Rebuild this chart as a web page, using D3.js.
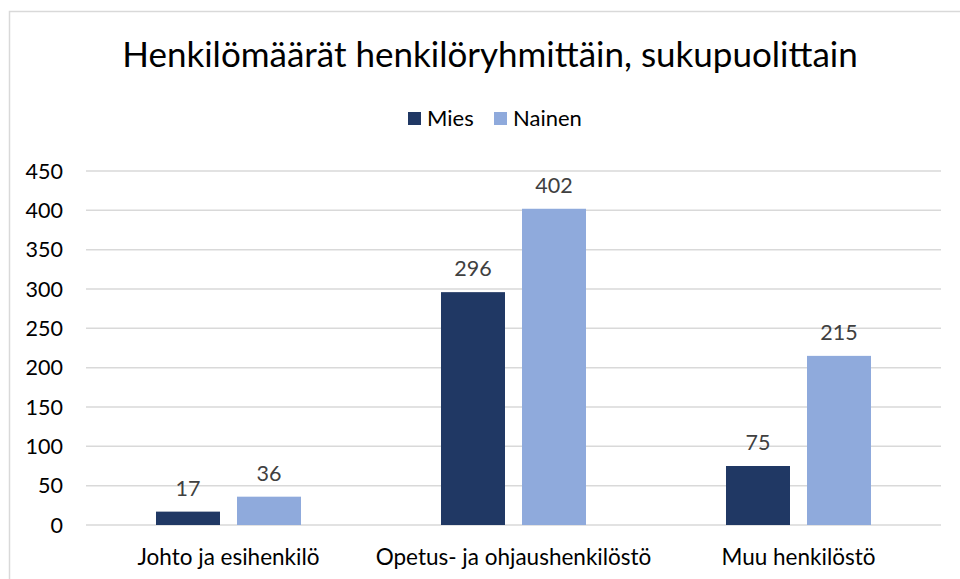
<!DOCTYPE html>
<html>
<head>
<meta charset="utf-8">
<script src="https://cdn.jsdelivr.net/npm/d3@7"></script>
<style>
  body { margin: 0; background: #fff; }
  svg { display: block; font-family: Lato, "Open Sans", sans-serif; }
</style>
</head>
<body>
<div id="chart"></div>
<script>
// Data
const categories = ['Johto ja esihenkilö', 'Opetus- ja ohjaushenkilöstö', 'Muu henkilöstö'];
const series = ['Mies', 'Nainen'];
const miesValues = [17, 296, 75];
const nainenValues = [36, 402, 215];
const yTicks = [0, 50, 100, 150, 200, 250, 300, 350, 400, 450];
const title = 'Henkilömäärät henkilöryhmittäin, sukupuolittain';

const colors = { Mies: '#203864', Nainen: '#8faadc' };

const width = 960;
const height = 579;
const plot = { left: 86, right: 941, top: 171, bottom: 525 };

const svg = d3.select('#chart')
  .append('svg')
  .attr('width', width)
  .attr('height', height);

// chart border
svg.append('rect')
  .attr('x', 9.5)
  .attr('y', 11.5)
  .attr('width', 1000)
  .attr('height', 1000)
  .attr('fill', '#fff')
  .attr('stroke', '#d9d9d9')
  .attr('stroke-width', 1.5);

// Scales
const y = d3.scaleLinear().domain([0, 450]).range([plot.bottom, plot.top]);
const x0 = d3.scaleBand().domain(categories).range([plot.left, plot.right]);
const bw = x0.bandwidth();
const x1 = d3.scaleBand().domain(series)
  .range([bw * 0.2456, bw * 0.7544])
  .paddingInner(0.21);

// Gridlines
svg.append('g')
  .selectAll('line')
  .data(yTicks)
  .enter()
  .append('line')
  .attr('x1', plot.left)
  .attr('x2', plot.right)
  .attr('y1', d => y(d))
  .attr('y2', d => y(d))
  .attr('stroke', '#d9d9d9')
  .attr('stroke-width', 1.5);

// Y tick labels
svg.append('g')
  .selectAll('text')
  .data(yTicks)
  .enter()
  .append('text')
  .attr('x', 63)
  .attr('y', d => y(d))
  .attr('dy', '0.36em')
  .attr('text-anchor', 'end')
  .style('font-size', '21.5px')
  .style('fill', '#000')
  .text(d => d);

// Bars
const rows = categories.map((c, i) => ({ category: c, Mies: miesValues[i], Nainen: nainenValues[i] }));

const groups = svg.append('g')
  .selectAll('g')
  .data(rows)
  .enter()
  .append('g')
  .attr('transform', d => `translate(${x0(d.category)},0)`);

const bars = groups.selectAll('g')
  .data(d => series.map(s => ({ key: s, value: d[s] })))
  .enter()
  .append('g');

bars.append('rect')
  .attr('x', d => x1(d.key))
  .attr('width', x1.bandwidth())
  .attr('y', d => y(d.value))
  .attr('height', d => y(0) - y(d.value))
  .attr('fill', d => colors[d.key]);

// Data labels
bars.append('text')
  .attr('x', d => x1(d.key) + x1.bandwidth() / 2)
  .attr('y', d => y(d.value) - 16)
  .attr('text-anchor', 'middle')
  .style('font-size', '21.5px')
  .style('fill', '#404040')
  .text(d => d.value);

// Category labels
svg.append('g')
  .selectAll('text')
  .data(categories)
  .enter()
  .append('text')
  .attr('x', d => x0(d) + bw / 2)
  .attr('y', 565)
  .attr('text-anchor', 'middle')
  .style('font-size', '22.5px')
  .style('fill', '#000')
  .text(d => d);

// Title
svg.append('text')
  .attr('x', 490)
  .attr('y', 67)
  .attr('text-anchor', 'middle')
  .style('font-size', '35px')
  .style('fill', '#000')
  .text(title);

// Legend
const legendX = [408, 494];
const legend = svg.append('g')
  .selectAll('g')
  .data(series)
  .enter()
  .append('g')
  .attr('transform', (d, i) => `translate(${legendX[i]},112)`);

legend.append('rect')
  .attr('width', 13)
  .attr('height', 13)
  .attr('fill', d => colors[d]);

legend.append('text')
  .attr('x', 19)
  .attr('y', 6.5)
  .attr('dy', '0.36em')
  .style('font-size', '22px')
  .style('fill', '#000')
  .text(d => d);
</script>
</body>
</html>
